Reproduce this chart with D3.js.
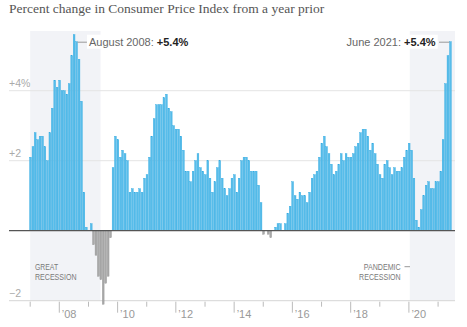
<!DOCTYPE html>
<html>
<head>
<meta charset="utf-8">
<script src="https://cdn.jsdelivr.net/npm/d3@7"></script>
<style>
  body { margin: 0; background: #fff; }
  text { font-family: "Liberation Sans", Arial, sans-serif; }
</style>
</head>
<body>
<script>
// year-over-year CPI change, monthly from Jan 2007 to Jun 2021
var firstMonth = '2007-01'
var cpiChange = [
  2.1, 2.4, 2.8, 2.6, 2.7, 2.7, 2.4, 2.0, 2.8, 3.5, 4.3, 4.1,   // 2007
  4.3, 4.0, 4.0, 3.9, 4.2, 5.0, 5.6, 5.4, 4.9, 3.7, 1.1, 0.1,   // 2008
  0.0, 0.2, -0.4, -0.7, -1.3, -1.4, -2.1, -1.5, -1.3, -0.2, 1.8, 2.7, // 2009
  2.6, 2.1, 2.3, 2.2, 2.0, 1.1, 1.2, 1.1, 1.1, 1.2, 1.1, 1.5,   // 2010
  1.6, 2.1, 2.7, 3.2, 3.6, 3.6, 3.6, 3.8, 3.9, 3.5, 3.4, 3.0,   // 2011
  2.9, 2.9, 2.7, 2.3, 1.7, 1.7, 1.4, 1.7, 2.0, 2.2, 1.8, 1.7,   // 2012
  1.6, 2.0, 1.5, 1.1, 1.4, 1.8, 2.0, 1.5, 1.2, 1.0, 1.2, 1.5,   // 2013
  1.6, 1.1, 1.5, 2.0, 2.1, 2.1, 2.0, 1.7, 1.7, 1.7, 1.3, 0.8,   // 2014
  -0.1, 0.0, -0.1, -0.2, 0.0, 0.1, 0.2, 0.2, 0.0, 0.2, 0.5, 0.7, // 2015
  1.4, 1.0, 0.9, 1.1, 1.0, 1.0, 0.8, 1.1, 1.5, 1.6, 1.7, 2.1,   // 2016
  2.5, 2.7, 2.4, 2.2, 1.9, 1.6, 1.7, 1.9, 2.2, 2.0, 2.2, 2.1,   // 2017
  2.1, 2.2, 2.4, 2.5, 2.8, 2.9, 2.9, 2.7, 2.3, 2.5, 2.2, 1.9,   // 2018
  1.6, 1.5, 1.9, 2.0, 1.8, 1.6, 1.8, 1.7, 1.7, 1.8, 2.1, 2.3,   // 2019
  2.5, 2.3, 1.5, 0.3, 0.1, 0.6, 1.0, 1.3, 1.4, 1.2, 1.2, 1.4,   // 2020
  1.4, 1.7, 2.6, 4.2, 5.0, 5.4                                 // 2021
]

var yTicks = [4, 2, -2]
var yTickLabels = ['+4%', '+2', '\u22122']
var tickYears = ['2007', '2008', '2009', '2010', '2011', '2012', '2013', '2014', '2015', '2016', '2017', '2018', '2019', '2020', '2021']

var recessionNames = [['GREAT', 'RECESSION'], ['PANDEMIC', 'RECESSION']]
var recessionStart = ['2007-01', '2020-01-12']
var recessionEnd = ['2009-06', '2021-08']

var noteMonths = ['2008-08', '2021-06']
var noteLabels = ['August 2008: ', 'June 2021: ']
var noteValues = ['+5.4%', '+5.4%']

var width = 467, height = 327
var parseMonth = d3.timeParse('%Y-%m')
var parseDay = d3.timeParse('%Y-%m-%d')
function toDate(s) { return s.length > 7 ? parseDay(s) : parseMonth(s) }

var start = parseMonth(firstMonth)
var data = cpiChange.map((v, i) => ({ date: d3.timeMonth.offset(start, i), value: v }))

var x = d3.scaleTime()
  .domain([start, parseMonth('2021-08')])
  .range([30.2, 455])

var y = d3.scaleLinear()
  .domain([-2, 6])
  .range([300.7, 20.7])

var svg = d3.select('body').append('svg').attr('width', width).attr('height', height)

// title
svg.append('text')
  .attr('x', 9).attr('y', 13)
  .style('font-family', '"Liberation Serif", Georgia, serif')
  .style('font-size', '13.5px')
  .attr('fill', '#555')
  .text('Percent change in Consumer Price Index from a year prior')

// recession shading
svg.append('g').selectAll('rect')
  .data(recessionStart)
  .join('rect')
  .attr('x', (d, i) => x(toDate(d)))
  .attr('width', (d, i) => x(toDate(recessionEnd[i])) - x(toDate(d)))
  .attr('y', 31)
  .attr('height', y(-2) - 31)
  .attr('fill', '#f2f3f7')

// gridlines
var grid = svg.append('g')
grid.selectAll('line')
  .data(yTicks)
  .join('line')
  .attr('x1', 9).attr('x2', x.range()[1])
  .attr('y1', d => y(d)).attr('y2', d => y(d))
  .attr('stroke', d => d === -2 ? '#d6d6d6' : '#e4e4e4')
  .attr('stroke-width', 1)

grid.selectAll('text')
  .data(yTicks)
  .join('text')
  .attr('x', 9).attr('y', d => y(d) - 3.5)
  .attr('fill', '#aaa')
  .style('font-size', '10.5px')
  .text((d, i) => yTickLabels[i])

// bars
var barW = 1.75
svg.append('g').selectAll('rect')
  .data(data)
  .join('rect')
  .attr('x', d => x(d.date) - 0.6)
  .attr('width', barW)
  .attr('y', d => y(Math.max(0, d.value)))
  .attr('height', d => Math.abs(y(d.value) - y(0)))
  .attr('fill', d => d.value < 0 ? '#a9a9a9' : '#58bdea')
  .attr('stroke', d => d.value < 0 ? '#8f8f8f' : '#2ea9e1')
  .attr('stroke-width', 0.4)

// zero line
svg.append('line')
  .attr('x1', 9).attr('x2', x.range()[1])
  .attr('y1', y(0)).attr('y2', y(0))
  .attr('stroke', '#555').attr('stroke-width', 1.2)

// x axis ticks
var xAxis = svg.append('g')
xAxis.selectAll('line')
  .data(tickYears)
  .join('line')
  .attr('x1', d => x(d3.timeParse('%Y')(d))).attr('x2', d => x(d3.timeParse('%Y')(d)))
  .attr('y1', y(-2) + 1)
  .attr('y2', d => +d % 2 === 0 ? y(-2) + 12 : y(-2) + 6)
  .attr('stroke', '#bbb')

xAxis.selectAll('text')
  .data(tickYears.filter(d => +d % 2 === 0))
  .join('text')
  .attr('x', d => x(d3.timeParse('%Y')(d)) + 2.5)
  .attr('y', y(-2) + 17)
  .attr('fill', '#999')
  .style('font-size', '11px')
  .text(d => '\u2019' + d.slice(2))

// recession labels
var recX = [35, 400.7]
var recAnchor = ['start', 'end']
recessionNames.forEach((names, i) => {
  names.forEach((n, j) => {
    svg.append('text')
      .attr('x', recX[i]).attr('y', 270 + j * 10.2)
      .attr('text-anchor', recAnchor[i])
      .attr('fill', '#7a7a7a')
      .style('font-size', '8.4px')
      .attr('textLength', n.length * 4.62)
      .attr('lengthAdjust', 'spacingAndGlyphs')
      .text(n)
  })
})
svg.append('line')
  .attr('x1', 404.5).attr('x2', 410)
  .attr('y1', 266.7).attr('y2', 266.7)
  .attr('stroke', '#999')

// peak annotations
noteMonths.forEach((m, i) => {
  var d = parseMonth(m)
  var v = data.find(e => +e.date === +d).value
  var yy = y(v)
  var right = i === 1
  var bx = x(d) - 0.6
  var g = svg.append('g')
  var t = g.append('text')
    .attr('y', yy + 4)
    .attr('fill', '#666')
    .style('font-size', '11px')
    .attr('text-anchor', right ? 'end' : 'start')
    .attr('x', right ? bx - 14 : bx + barW + 11.5)
  t.append('tspan').text(noteLabels[i])
  t.append('tspan').attr('fill', '#222').style('font-weight', 'bold').text(noteValues[i])
  var bb = t.node().getBBox()
  g.insert('rect', 'text')
    .attr('x', bb.x - 2).attr('y', bb.y - 1)
    .attr('width', bb.width + 4).attr('height', bb.height + 2)
    .attr('fill', '#fff')
  g.append('line')
    .attr('x1', right ? bx - 10.5 : bx + barW)
    .attr('x2', right ? bx : bx + barW + 9.5)
    .attr('y1', yy + 0.5).attr('y2', yy + 0.5)
    .attr('stroke', '#999')
})
</script>
</body>
</html>
